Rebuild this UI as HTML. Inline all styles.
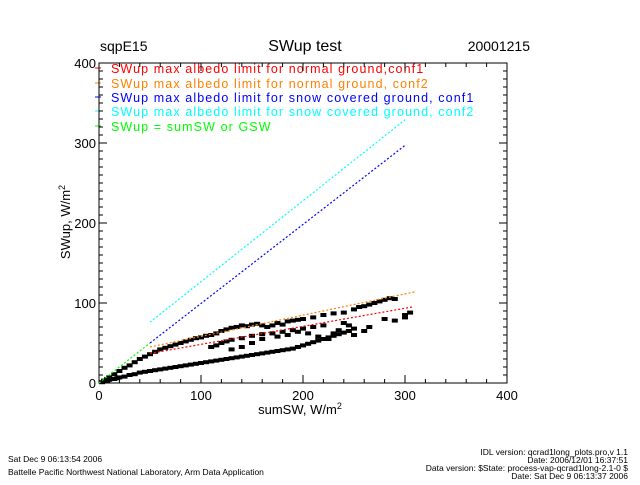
<!DOCTYPE html>
<html><head><meta charset="utf-8"><style>
body{margin:0;background:#fff;width:640px;height:480px;overflow:hidden}
svg text{font-family:"Liberation Sans",sans-serif}
</style></head><body>
<svg id="c" width="640" height="480">
<text x="100" y="51" font-size="14">sqpE15</text>
<text x="305" y="51" font-size="16" text-anchor="middle">SWup test</text>
<text x="530" y="51" font-size="14" text-anchor="end">20001215</text>
<text x="300" y="414" font-size="13" text-anchor="middle">sumSW, W/m<tspan dy="-5" font-size="9">2</tspan></text>
<text transform="translate(70,222) rotate(-90)" font-size="13" text-anchor="middle">SWup, W/m<tspan dy="-5" font-size="9">2</tspan></text>
<g font-size="12.5" letter-spacing="1.1">
<text x="111" y="73" fill="#f00">SWup max albedo limit for normal ground,conf1</text>
<text x="111" y="88" fill="#ff8000">SWup max albedo limit for normal ground, conf2</text>
<text x="111" y="102" fill="#00f">SWup max albedo limit for snow covered ground, conf1</text>
<text x="111" y="116" fill="#0ff">SWup max albedo limit for snow covered ground, conf2</text>
<text x="111" y="131" fill="#0f0">SWup = sumSW or GSW</text>
<line x1="95" x2="101" y1="68" y2="68" stroke="#f00"/><line x1="95" x2="101" y1="83" y2="83" stroke="#ff8000"/>
<line x1="95" x2="101" y1="97" y2="97" stroke="#00f"/><line x1="95" x2="101" y1="111" y2="111" stroke="#0ff"/>
<line x1="95" x2="101" y1="126" y2="126" stroke="#0f0"/>
</g>
<g font-size="8.5">
<text x="8" y="462">Sat Dec  9 06:13:54 2006</text>
<text x="8" y="475">Battelle Pacific Northwest National Laboratory, Arm Data Application</text>
<text x="628" y="455" text-anchor="end">IDL version: qcrad1long_plots.pro,v 1.1</text>
<text x="628" y="463" text-anchor="end">Date: 2006/12/01 16:37:51</text>
<text x="628" y="471" text-anchor="end">Data version: $State: process-vap-qcrad1long-2.1-0 $</text>
<text x="628" y="479" text-anchor="end">Date: Sat Dec  9 06:13:37 2006</text>
</g>
</svg>
<script>
const xTicks=[0,100,200,300,400];
const yTicks=[0,100,200,300,400];
const lineNames=['red','orange','blue','cyan','green'];
const lineColors=['#f00','#ff8000','#00f','#0ff','#0f0'];
const lineX0=[50,50,50,50,0];
const lineY0=[37,45,50,76,0];
const lineX1=[307,310,300,300,50];
const lineY1=[95,114,297,329,50];
const ptsX=[3,5,8,10,13,15,18,20,25,30,35,40,45,50,55,60,65,70,75,80,85,90,95,100,105,110,115,120,125,130,135,140,145,150,155,160,165,170,175,180,185,190,195,200,205,210,215,220,225,230,235,240,245,250,
5,8,10,15,20,25,30,35,40,45,50,55,60,65,70,75,80,85,90,95,100,105,110,115,120,125,130,135,140,145,150,155,160,165,170,175,180,185,190,195,200,210,220,230,240,
110,115,120,125,130,140,150,160,170,180,190,200,210,220,
250,255,260,265,270,275,280,285,290,300,300,305,260,265,230,235,280,290,240,245,250,225,215,205,195,185,175,160,150,140,130];
const ptsY=[1,2,3,4,5,5,6,7,8,10,11,13,14,15,16,17,18,19,20,21,22,23,24,25,26,27,28,29,30,31,32,33,34,35,36,37,38,39,40,41,42,43,45,47,49,51,53,55,57,59,61,63,65,68,
3,5,7,11,15,19,22,26,30,33,36,39,42,44,46,48,50,52,54,56,57,59,60,62,65,67,69,70,72,71,73,74,72,70,72,75,73,77,78,79,80,82,85,87,88,
45,47,50,52,54,56,59,61,62,64,66,68,70,72,
92,95,96,98,100,102,104,106,105,82,85,88,65,70,62,66,80,78,75,72,60,55,58,62,64,60,58,55,50,45,42];
const svg=document.getElementById('c');
const NS='http://www.w3.org/2000/svg';
const X0=99,X1=507,Y0=383,Y1=63;
function sx(v){return X0+(v-0)/400*(X1-X0);}
function sy(v){return Y0-(v-0)/400*(Y0-Y1);}
function mk(t,a){const e=document.createElementNS(NS,t);for(const k in a)e.setAttribute(k,a[k]);svg.appendChild(e);return e;}
const box=mk('rect',{x:X0,y:Y1,width:X1-X0,height:Y0-Y1,fill:'none',stroke:'#000'});


for(let v=0;v<=400;v+=20){const L=(v%100===0)?8:4;
 mk('line',{x1:sx(v),x2:sx(v),y1:Y0,y2:Y0-L,stroke:'#000'});
 mk('line',{x1:sx(v),x2:sx(v),y1:Y1,y2:Y1+L,stroke:'#000'});}
for(let v=0;v<=400;v+=10){const L=(v%100===0)?8:4;
 mk('line',{x1:X0,x2:X0+L,y1:sy(v),y2:sy(v),stroke:'#000'});
 mk('line',{x1:X1,x2:X1-L,y1:sy(v),y2:sy(v),stroke:'#000'});}
xTicks.forEach(v=>{const t=mk('text',{x:sx(v),y:Y0+17,'font-size':13,'text-anchor':'middle'});t.textContent=v;
 
 });
yTicks.forEach(v=>{const t=mk('text',{x:X0-3,y:sy(v)+5,'font-size':13,'text-anchor':'end'});t.textContent=v;
 
 });
for(let i=0;i<ptsX.length;i++){const r=mk('rect',{x:sx(ptsX[i])-3,y:sy(ptsY[i])-2,width:6,height:4,fill:'#000'});
 
 }
for(let i=0;i<lineNames.length;i++){const l=mk('line',{x1:sx(lineX0[i]),y1:sy(lineY0[i]),x2:sx(lineX1[i]),y2:sy(lineY1[i]),stroke:lineColors[i],'stroke-width':1.2,'stroke-dasharray':'2 2'});
 
 }
</script>
</body></html>
